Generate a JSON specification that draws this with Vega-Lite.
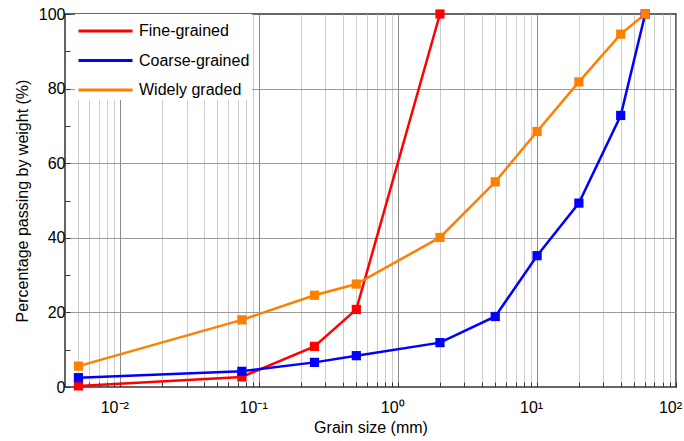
{
  "$schema": "https://vega.github.io/schema/vega-lite/v6.json",
  "width": 611,
  "height": 373,
  "autosize": {"type": "none"},
  "padding": {"left": 65, "top": 14, "right": 8, "bottom": 54},
  "config": {
    "font": "Liberation Sans",
    "view": {"stroke": "#333", "strokeWidth": 1.5}
  },
  "data": {
    "values": [
      {"series": "Fine-grained", "size": 0.005, "pass": 0.3},
      {"series": "Fine-grained", "size": 0.075, "pass": 2.7},
      {"series": "Fine-grained", "size": 0.25, "pass": 10.9},
      {"series": "Fine-grained", "size": 0.5, "pass": 20.8},
      {"series": "Fine-grained", "size": 2, "pass": 100},
      {"series": "Coarse-grained", "size": 0.005, "pass": 2.5},
      {"series": "Coarse-grained", "size": 0.075, "pass": 4.2},
      {"series": "Coarse-grained", "size": 0.25, "pass": 6.6},
      {"series": "Coarse-grained", "size": 0.5, "pass": 8.4},
      {"series": "Coarse-grained", "size": 2, "pass": 11.9},
      {"series": "Coarse-grained", "size": 5, "pass": 18.9},
      {"series": "Coarse-grained", "size": 10, "pass": 35.2},
      {"series": "Coarse-grained", "size": 20, "pass": 49.3},
      {"series": "Coarse-grained", "size": 40, "pass": 72.8},
      {"series": "Coarse-grained", "size": 60, "pass": 100},
      {"series": "Widely graded", "size": 0.005, "pass": 5.6},
      {"series": "Widely graded", "size": 0.075, "pass": 18.0},
      {"series": "Widely graded", "size": 0.25, "pass": 24.6},
      {"series": "Widely graded", "size": 0.5, "pass": 27.6},
      {"series": "Widely graded", "size": 2, "pass": 40.1},
      {"series": "Widely graded", "size": 5, "pass": 55.0},
      {"series": "Widely graded", "size": 10, "pass": 68.5},
      {"series": "Widely graded", "size": 20, "pass": 81.8},
      {"series": "Widely graded", "size": 40, "pass": 94.6},
      {"series": "Widely graded", "size": 60, "pass": 100}
    ]
  },
  "mark": {
    "type": "line",
    "strokeWidth": 2.5,
    "clip": false,
    "point": {"shape": "square", "filled": true, "size": 85, "opacity": 1}
  },
  "encoding": {
    "x": {
      "field": "size",
      "type": "quantitative",
      "scale": {"type": "log", "domain": [0.004, 100], "nice": false},
      "axis": {
        "title": "Grain size (mm)",
        "titleFontSize": 16,
        "titleFontWeight": "normal",
        "titleColor": "#000",
        "titlePadding": 4,
        "labelFontSize": 16,
        "labelColor": "#000",
        "labelPadding": 17,
        "labelOffset": -6,
        "labelFlush": false,
        "labelOverlap": false,
        "values": [0.005, 0.006, 0.007, 0.008, 0.009, 0.01, 0.02, 0.03, 0.04, 0.05, 0.06, 0.07, 0.08, 0.09, 0.1, 0.2, 0.3, 0.4, 0.5, 0.6, 0.7, 0.8, 0.9, 1, 2, 3, 4, 5, 6, 7, 8, 9, 10, 20, 30, 40, 50, 60, 70, 80, 90, 100],
        "labelExpr": "datum.value == 0.01 ? '10⁻²' : datum.value == 0.1 ? '10⁻¹' : datum.value == 1 ? '10⁰' : datum.value == 10 ? '10¹' : datum.value == 100 ? '10²' : ''",
        "grid": true,
        "gridColor": {"condition": {"test": "indexof([0.01, 0.1, 1, 10, 100], datum.value) >= 0", "value": "#8a8a8a"}, "value": "#cccccc"},
        "gridWidth": 1,
        "domain": false,
        "tickSize": -5,
        "tickColor": "#333"
      }
    },
    "y": {
      "field": "pass",
      "type": "quantitative",
      "scale": {"domain": [0, 100], "nice": false},
      "axis": {
        "title": "Percentage passing by weight (%)",
        "titleFontSize": 16,
        "titleFontWeight": "normal",
        "titleColor": "#000",
        "titlePadding": 8,
        "labelFontSize": 16,
        "labelColor": "#000",
        "labelPadding": 5,
        "labelFlush": false,
        "labelOverlap": false,
        "values": [0, 10, 20, 30, 40, 50, 60, 70, 80, 90, 100],
        "labelExpr": "datum.value % 20 == 0 ? datum.label : ''",
        "grid": true,
        "gridColor": "#999999",
        "gridOpacity": {"condition": {"test": "datum.value % 20 == 0 && datum.value > 0 && datum.value < 100", "value": 1}, "value": 0},
        "domain": false,
        "tickSize": -5,
        "tickColor": "#333"
      }
    },
    "color": {
      "field": "series",
      "type": "nominal",
      "sort": ["Fine-grained", "Coarse-grained", "Widely graded"],
      "scale": {"domain": ["Fine-grained", "Coarse-grained", "Widely graded"], "range": ["#ff0000", "#0000ff", "#ff8000"]},
      "legend": {
        "title": null,
        "orient": "none",
        "legendX": 10,
        "legendY": 0,
        "fillColor": "#ffffff",
        "padding": 2,
        "symbolType": "M-1,0H3",
        "symbolSize": 729,
        "symbolStrokeWidth": 3,
        "rowPadding": 6.5,
        "labelFontSize": 16,
        "labelColor": "#000",
        "labelOffset": 32,
        "labelLimit": 200
      }
    }
  }
}
